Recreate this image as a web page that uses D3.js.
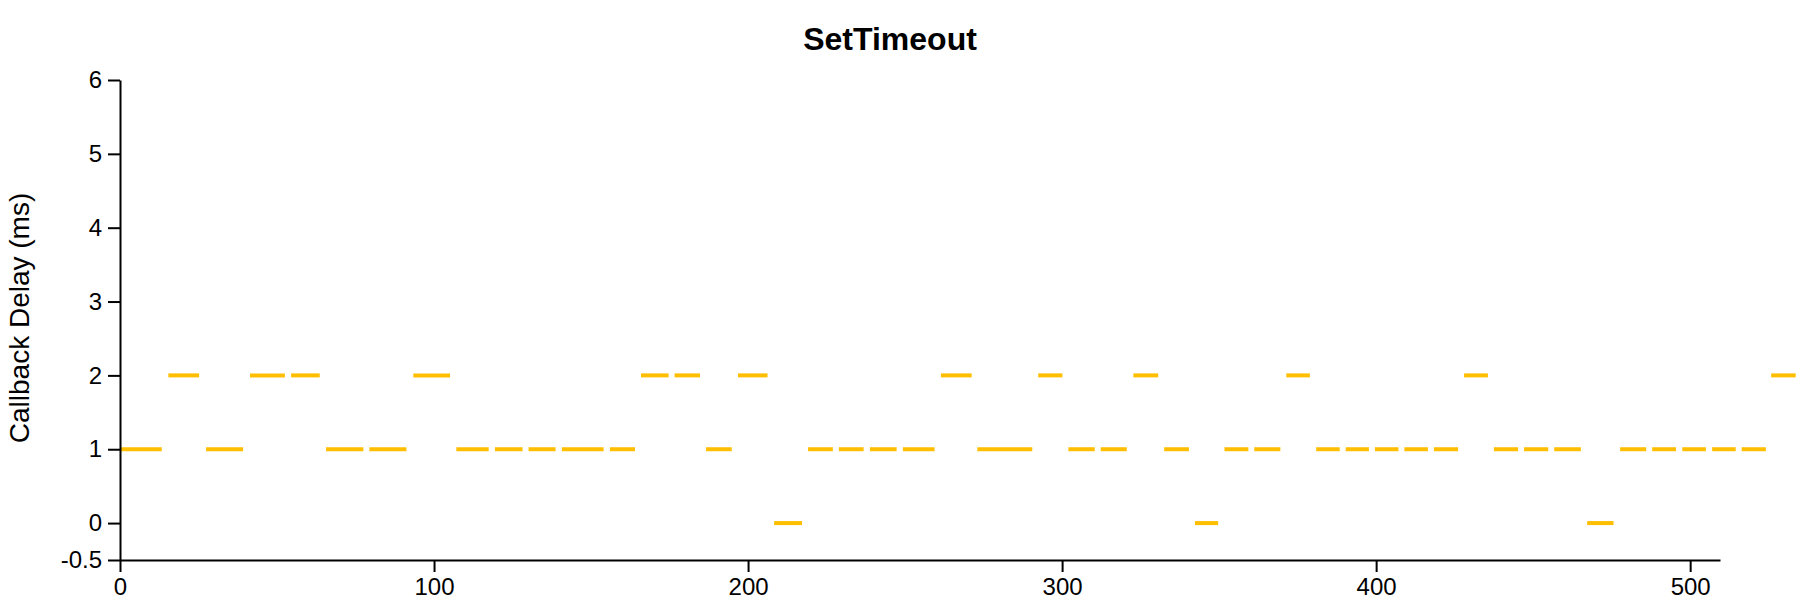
<!DOCTYPE html>
<html>
<head>
<meta charset="utf-8">
<script src="https://cdn.jsdelivr.net/npm/d3@7"></script>
<style>
  body { margin: 0; background: #fff; }
  text { font-family: "Liberation Sans", Arial, Helvetica, sans-serif; }
</style>
</head>
<body>
<script>
// start / end time of each timer (ms) and the delay its callback saw
var starts = [0, 15.4, 27.4, 41.4, 54.5, 65.6, 79.4, 93.4, 107.1, 119.4,
  130.1, 140.7, 156.0, 165.9, 176.6, 186.6, 196.8, 208.3, 219.1, 228.9,
  238.8, 249.3, 261.4, 273.0, 292.4, 302.0, 312.3, 322.7, 332.5, 342.3,
  351.7, 361.2, 371.4, 380.9, 390.3, 399.6, 409.0, 418.4, 428.0, 437.5,
  447.1, 456.7, 467.2, 477.7, 487.9, 497.5, 507.0, 516.4, 525.8];
var ends = [13.3, 25.2, 39.2, 52.5, 63.6, 77.5, 91.2, 105.1, 117.4, 128.2,
  138.7, 154.0, 164.0, 174.7, 184.7, 194.8, 206.2, 217.2, 227.0, 236.8,
  247.3, 259.4, 271.2, 290.5, 300.1, 310.4, 320.6, 330.6, 340.4, 349.7,
  359.3, 369.5, 378.9, 388.4, 397.7, 407.1, 416.5, 426.1, 435.6, 445.2,
  454.8, 465.2, 475.6, 486.0, 495.5, 505.0, 514.5, 524.1, 533.6];
var delays = [1, 2, 1, 2, 2, 1, 1, 2, 1, 1,
  1, 1, 1, 2, 2, 1, 2, 0, 1, 1,
  1, 1, 2, 1, 2, 1, 1, 2, 1, 0,
  1, 1, 2, 1, 1, 1, 1, 1, 2, 1,
  1, 1, 0, 1, 1, 1, 1, 1, 2];

var xTicks = [0, 100, 200, 300, 400, 500];
var yTicks = [-0.5, 0, 1, 2, 3, 4, 5, 6];

var width = 1800, height = 600;
var margin = {top: 80, right: 80, bottom: 40, left: 120};

var svg = d3.select("body").append("svg")
    .attr("width", width)
    .attr("height", height);

var x = d3.scaleLinear()
    .domain([0, 509.5])
    .range([margin.left, width - margin.right]);

var y = d3.scaleLinear()
    .domain([-0.5, 6])
    .range([height - margin.bottom, margin.top]);

var data = starts.map(function(s, i){
  return {start: s, end: ends[i], delay: delays[i]};
});

svg.append("g").selectAll("line").data(data)
  .enter().append("line")
    .attr("x1", function(d){ return x(d.start); })
    .attr("x2", function(d){ return x(d.end); })
    .attr("y1", function(d){ return y(d.delay); })
    .attr("y2", function(d){ return y(d.delay); })
    .style("stroke", "#ffbf00")
    .style("stroke-width", 4);

var xAxis = svg.append("g")
    .attr("transform", "translate(0," + (height - margin.bottom) + ")")
    .call(d3.axisBottom(x).tickValues(xTicks).tickSize(12).tickSizeOuter(0).tickPadding(6));

var yAxis = svg.append("g")
    .attr("transform", "translate(" + margin.left + ",0)")
    .call(d3.axisLeft(y).tickValues(yTicks).tickSize(12).tickSizeOuter(0).tickPadding(6)
      .tickFormat(function(d){ return String(d); }));

[xAxis, yAxis].forEach(function(g){
  g.selectAll("path, line").style("stroke", "#000").style("stroke-width", 2);
  g.selectAll("text").style("font-size", "24px").style("fill", "#000")
    .style("font-family", '"Liberation Sans", Arial, Helvetica, sans-serif');
});

svg.append("text")
    .attr("x", 890)
    .attr("y", 50)
    .attr("text-anchor", "middle")
    .style("font-size", "32px")
    .style("font-weight", "bold")
    .text("SetTimeout");

svg.append("text")
    .attr("transform", "translate(29,318) rotate(-90)")
    .attr("text-anchor", "middle")
    .style("font-size", "28px")
    .text("Callback Delay (ms)");
</script>
</body>
</html>
